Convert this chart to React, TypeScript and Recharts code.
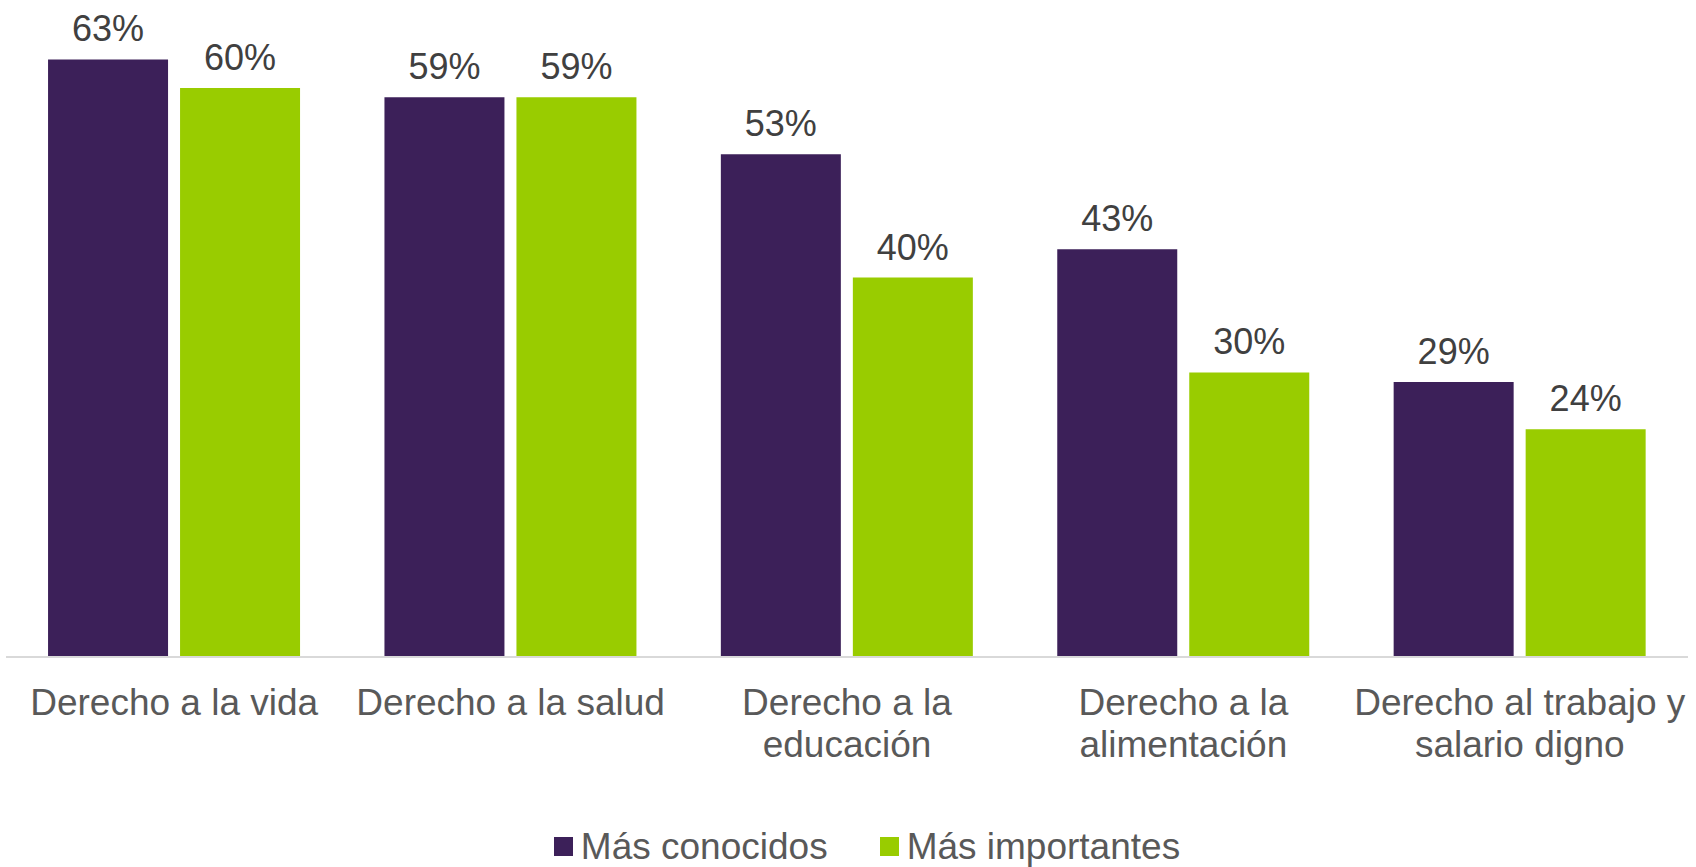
import { BarChart, Bar, XAxis, YAxis, Legend, LabelList } from 'recharts'

const categories = [
  'Derecho a la vida',
  'Derecho a la salud',
  'Derecho a la educación',
  'Derecho a la alimentación',
  'Derecho al trabajo y salario digno',
]
// tick labels as they are broken into lines on the chart
const tickLabels: string[][] = [
  ['Derecho a la vida'],
  ['Derecho a la salud'],
  ['Derecho a la', 'educación'],
  ['Derecho a la', 'alimentación'],
  ['Derecho al trabajo y', 'salario digno'],
]
const masConocidos = [63, 59, 53, 43, 29]
const masImportantes = [60, 59, 40, 30, 24]

const SERIES = [
  { key: 'conocidos', name: 'Más conocidos', color: '#3c2059' },
  { key: 'importantes', name: 'Más importantes', color: '#99cc00' },
]

const FONT = '"Liberation Sans", Arial, sans-serif'

const data = categories.map((name, i) => ({
  name,
  conocidos: masConocidos[i],
  importantes: masImportantes[i],
}))

function renderTick(props: any) {
  const { x, y, payload } = props
  const idx = categories.indexOf(payload.value)
  const lines = tickLabels[idx] ?? [payload.value]
  return (
    <text
      key={payload.value}
      x={x}
      y={y}
      textAnchor='middle'
      fill='#595959'
      fontSize={37}
      fontFamily={FONT}
    >
      {lines.map((line, i) => (
        <tspan key={i} x={x} dy={i === 0 ? '0.71em' : 42}>
          {line}
        </tspan>
      ))}
    </text>
  )
}

function LegendBox() {
  return (
    <div
      style={{
        display: 'flex',
        justifyContent: 'center',
        alignItems: 'center',
        paddingLeft: 40,
        fontFamily: FONT,
        fontSize: 37,
        color: '#595959',
        height: 41,
      }}
    >
      {SERIES.map((s, i) => (
        <span
          key={s.key}
          style={{ display: 'flex', alignItems: 'center', marginRight: i === 0 ? 52 : 0 }}
        >
          <span style={{ width: 19, height: 19, background: s.color, marginRight: 8 }} />
          {s.name}
        </span>
      ))}
    </div>
  )
}

export default function App() {
  return (
    <div style={{ position: 'absolute', left: 0, top: 0, background: '#fff' }}>
      <BarChart
        width={1696}
        height={867}
        data={data}
        margin={{ top: 12, right: 8, left: 6, bottom: 0 }}
        barCategoryGap='12.5%'
        barGap={12}
      >
        <XAxis
          dataKey='name'
          axisLine={{ stroke: '#d9d9d9', strokeWidth: 2 }}
          tickLine={false}
          tickSize={0}
          tickMargin={32}
          height={169}
          interval={0}
          tick={renderTick}
        />
        <YAxis hide domain={[0, 68]} />
        <Legend verticalAlign='bottom' content={<LegendBox />} />
        {SERIES.map((s) => (
          <Bar key={s.key} dataKey={s.key} name={s.name} fill={s.color} isAnimationActive={false}>
            <LabelList
              dataKey={s.key}
              position='top'
              offset={18}
              formatter={(v: any) => `${v}%`}
              style={{ fontSize: 36, fontFamily: FONT, fill: '#404040' }}
            />
          </Bar>
        ))}
      </BarChart>
    </div>
  )
}
